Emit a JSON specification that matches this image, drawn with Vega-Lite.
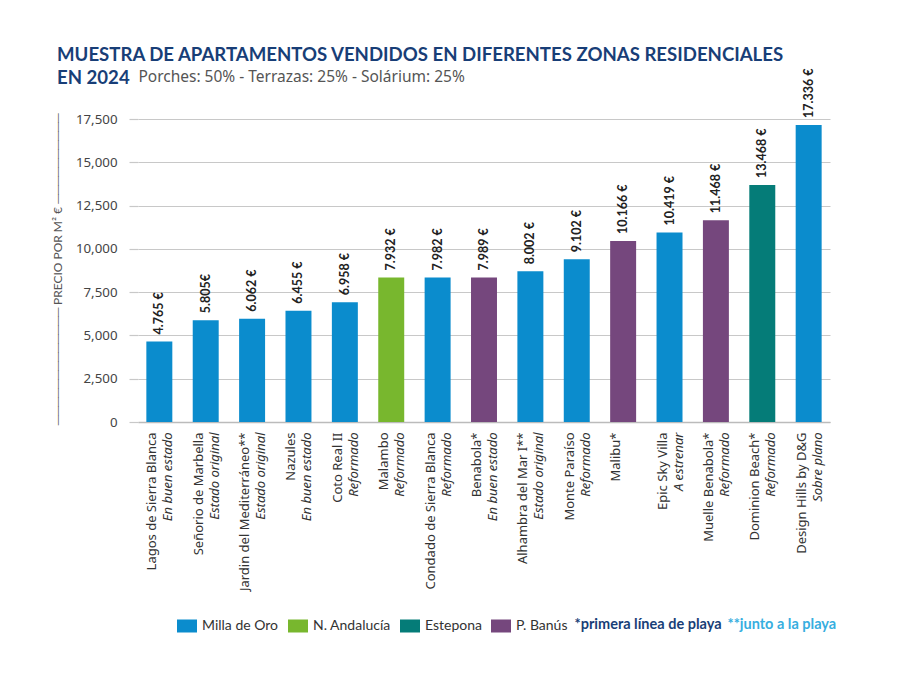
{
  "$schema": "https://vega.github.io/schema/vega-lite/v6.json",
  "width": 692,
  "height": 303,
  "autosize": {"type": "none"},
  "padding": {"left": 138, "top": 119, "right": 70, "bottom": 267},
  "background": "white",
  "config": {"view": {"stroke": null}},
  "title": {
    "text": ["MUESTRA DE APARTAMENTOS VENDIDOS EN DIFERENTES ZONAS RESIDENCIALES", "EN 2024"],
    "subtitle": "\u200b\u2003\u2003\u2003\u2003\u2003\u2005Porches: 50% - Terrazas: 25% - Solárium: 25%",
    "anchor": "start",
    "frame": "group",
    "dx": -81,
    "offset": -19,
    "font": "Lato",
    "fontSize": 18.6,
    "fontWeight": "bold",
    "color": "#183e77",
    "lineHeight": 23,
    "subtitleFont": "Noto Sans",
    "subtitleFontSize": 15.5,
    "subtitleColor": "#555555",
    "subtitlePadding": -18
  },
  "data": {
    "values": [
      {"etiqueta": "Lagos de Sierra Blanca|En buen estado", "zona": "Milla de Oro", "precio": 4650, "rotulo": "4.765 €", "nota": null},
      {"etiqueta": "Señorio de Marbella|Estado original", "zona": "Milla de Oro", "precio": 5880, "rotulo": "5.805€", "nota": null},
      {"etiqueta": "Jardin del Mediterráneo**|Estado original", "zona": "Milla de Oro", "precio": 5960, "rotulo": "6.062 €", "nota": "**junto a la playa"},
      {"etiqueta": "Nazules|En buen estado", "zona": "Milla de Oro", "precio": 6430, "rotulo": "6.455 €", "nota": null},
      {"etiqueta": "Coto Real II|Reformado", "zona": "Milla de Oro", "precio": 6920, "rotulo": "6.958 €", "nota": null},
      {"etiqueta": "Malambo|Reformado", "zona": "N. Andalucía", "precio": 8350, "rotulo": "7.932 €", "nota": null},
      {"etiqueta": "Condado de Sierra Blanca|Reformado", "zona": "Milla de Oro", "precio": 8350, "rotulo": "7.982 €", "nota": null},
      {"etiqueta": "Benabola*|En buen estado", "zona": "P. Banús", "precio": 8350, "rotulo": "7.989 €", "nota": "*primera línea de playa"},
      {"etiqueta": "Alhambra del Mar I**|Estado original", "zona": "Milla de Oro", "precio": 8700, "rotulo": "8.002 €", "nota": "**junto a la playa"},
      {"etiqueta": "Monte Paraíso|Reformado", "zona": "Milla de Oro", "precio": 9400, "rotulo": "9.102 €", "nota": null},
      {"etiqueta": "Malibu*|", "zona": "P. Banús", "precio": 10460, "rotulo": "10.166 €", "nota": "*primera línea de playa"},
      {"etiqueta": "Epic Sky Villa|A estrenar", "zona": "Milla de Oro", "precio": 10950, "rotulo": "10.419 €", "nota": null},
      {"etiqueta": "Muelle Benabola*|Reformado", "zona": "P. Banús", "precio": 11650, "rotulo": "11.468 €", "nota": "*primera línea de playa"},
      {"etiqueta": "Dominion Beach*|Reformado", "zona": "Estepona", "precio": 13690, "rotulo": "13.468 €", "nota": "*primera línea de playa"},
      {"etiqueta": "Design Hills by D&G|Sobre plano", "zona": "Milla de Oro", "precio": 17150, "rotulo": "17.336 €", "nota": null}
    ]
  },
  "encoding": {
    "y": {
      "field": "precio",
      "type": "quantitative",
      "scale": {"domain": [0, 17500], "nice": false},
      "axis": {
        "title": "───────────── PRECIO POR M² € ──────────",
        "titleFont": "Lato, DejaVu Sans Mono",
        "titleFontWeight": "normal",
        "titleFontSize": 12,
        "titleColor": "#555555",
        "titleAngle": 270,
        "titleBaseline": "middle",
        "titleAlign": "center",
        "titleX": -81,
        "titleY": 150,
        "values": [0, 2500, 5000, 7500, 10000, 12500, 15000, 17500],
        "format": ",.0f",
        "labelFont": "Noto Sans",
        "labelFontSize": 13.3,
        "labelColor": "#444444",
        "labelPadding": 12,
        "tickSize": 9,
        "tickColor": "#c8c8c8",
        "tickWidth": 1.2,
        "domain": false,
        "grid": true,
        "gridColor": "#c8c8c8",
        "gridWidth": 1.2
      }
    }
  },
  "resolve": {"axis": {"x": "independent"}},
  "layer": [
    {
      "mark": {"type": "bar"},
      "encoding": {
        "x": {
          "field": "etiqueta",
          "type": "nominal",
          "sort": null,
          "scale": {"paddingInner": 0.44, "paddingOuter": 0.18},
          "axis": {
            "orient": "bottom",
            "title": null,
            "labelExpr": "split(datum.value, '|')[0]",
            "labelAngle": 270,
            "labelFont": "Noto Sans",
            "labelFontSize": 13,
            "labelColor": "#333333",
            "labelOffset": -7,
            "labelPadding": 10,
            "labelLimit": 300,
            "ticks": false,
            "domain": true,
            "domainColor": "#bbbbbb",
            "domainWidth": 1.5,
            "grid": false
          }
        },
        "color": {
          "field": "zona",
          "type": "nominal",
          "scale": {
            "domain": ["Milla de Oro", "N. Andalucía", "Estepona", "P. Banús"],
            "range": ["#0b8ccd", "#78b72e", "#057c78", "#75477d"]
          },
          "legend": {
            "title": null,
            "orient": "none",
            "legendX": 39,
            "legendY": 497,
            "direction": "horizontal",
            "symbolType": "M-1,-0.65H1V0.65H-1Z",
            "symbolSize": 400,
            "symbolStrokeWidth": 0,
            "labelFont": "Lato",
            "labelFontSize": 14,
            "labelColor": "#333333",
            "labelOffset": 5,
            "columnPadding": 9
          }
        }
      }
    },
    {
      "mark": {"type": "text", "angle": 270, "align": "left", "baseline": "middle", "dx": 7, "font": "Lato", "fontSize": 12.5, "fontWeight": "bold", "color": "#222222"},
      "encoding": {
        "x": {
          "field": "etiqueta",
          "type": "nominal",
          "sort": null,
          "scale": {"paddingInner": 0.44, "paddingOuter": 0.18},
          "axis": {
            "orient": "bottom",
            "title": null,
            "labelExpr": "split(datum.value, '|')[1]",
            "labelAngle": 270,
            "labelFont": "Noto Sans",
            "labelFontSize": 13,
            "labelFontStyle": "italic",
            "labelColor": "#333333",
            "labelOffset": 9,
            "labelPadding": 10,
            "labelLimit": 300,
            "ticks": false,
            "domain": false,
            "grid": false
          }
        },
        "text": {"field": "rotulo", "type": "nominal"}
      }
    },
    {
      "transform": [{"filter": "datum.nota != null"}],
      "mark": {"type": "point", "opacity": 0},
      "encoding": {
        "shape": {
          "field": "nota",
          "type": "nominal",
          "scale": {"domain": ["*primera línea de playa", "**junto a la playa"]},
          "legend": {
            "title": null,
            "orient": "none",
            "legendX": 431,
            "legendY": 499,
            "direction": "horizontal",
            "symbolSize": 0,
            "symbolOpacity": 0,
            "symbolStrokeWidth": 0,
            "labelOffset": -9,
            "columnPadding": 0,
            "labelFont": "Lato",
            "labelFontSize": 14.5,
            "labelFontWeight": "bold",
            "labelColor": {"expr": "datum.label == '**junto a la playa' ? '#36aee0' : '#183e77'"}
          }
        }
      }
    }
  ]
}
